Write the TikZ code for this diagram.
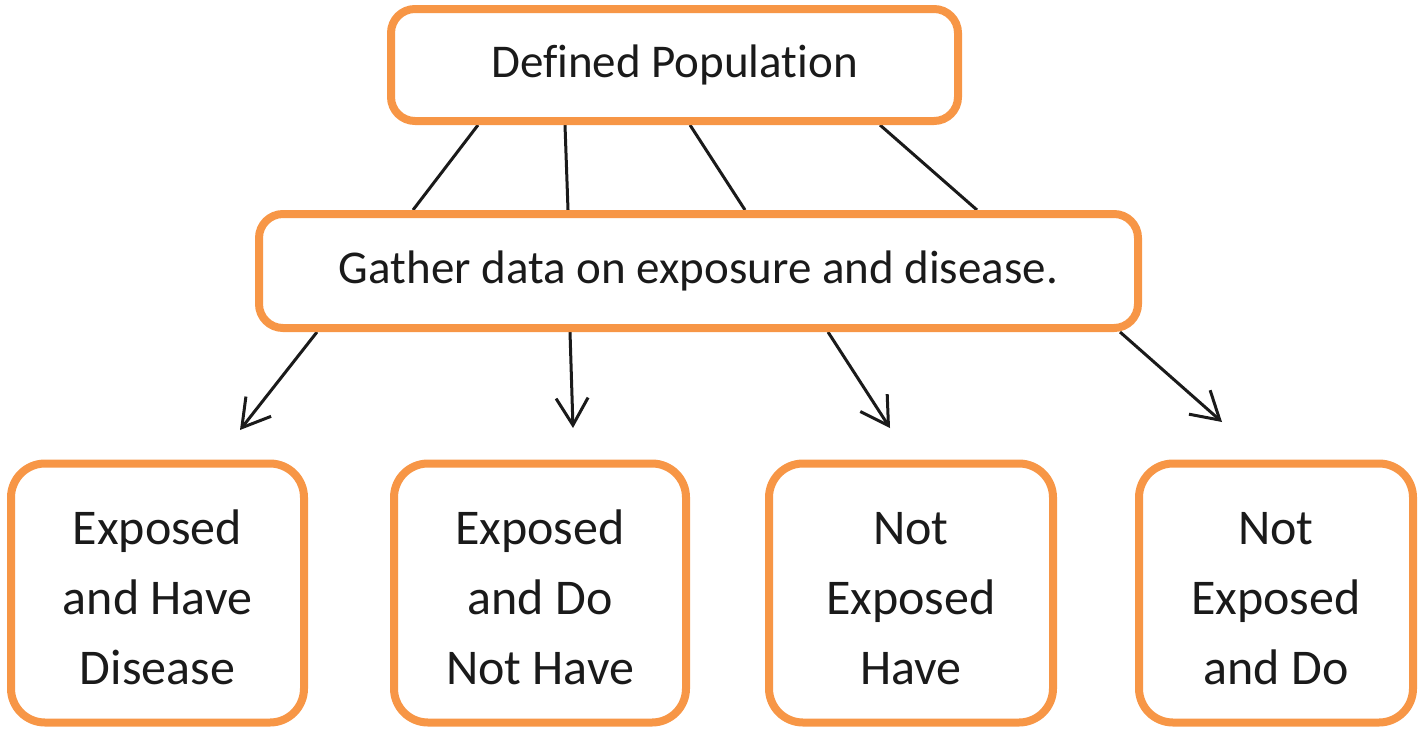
\documentclass[tikz,border=0pt]{standalone}
\usepackage{fontspec}
\setmainfont{Carlito}[Ligatures=NoCommon]
\usetikzlibrary{arrows.meta,backgrounds}
\definecolor{accent}{HTML}{F79646}
\definecolor{ink}{HTML}{1A1A1A}
\newcommand{\grouplines}[1]{\raisebox{-7pt}[\height][\depth]{\begin{tabular}{@{}c@{}}#1\end{tabular}}}
\begin{document}
\begin{tikzpicture}[x=1pt,y=-1pt,
  box/.style={draw=accent, line width=8pt, fill=white, rounded corners=24pt,
    inner sep=0pt, text=ink, align=center},
  headbox/.style={box, font=\fontsize{47}{56}\selectfont},
  leafbox/.style={box, rounded corners=34pt, font=\fontsize{50}{70}\selectfont},
  link/.style={draw=ink, line width=3pt},
  arrowlink/.style={link, -{Straight Barb[length=27pt, width=32pt, line width=3pt]}}
]
\useasboundingbox (0,0) rectangle (1418,731);

% boxes
\node[headbox, minimum width=567pt, minimum height=112pt] (top) at (674.5,65) {Defined Population};
\node[headbox, minimum width=879pt, minimum height=114pt] (mid) at (698.5,271) {Gather data on exposure and disease.};

\node[leafbox, minimum width=293pt, minimum height=259pt] (b1) at (157.5,593) {\grouplines{Exposed\\and Have\\Disease}};
\node[leafbox, minimum width=292pt, minimum height=259pt] (b2) at (540,593) {\grouplines{Exposed\\and Do\\Not Have}};
\node[leafbox, minimum width=284pt, minimum height=259pt] (b3) at (911,593) {\grouplines{Not\\Exposed\\Have}};
\node[leafbox, minimum width=274pt, minimum height=259pt] (b4) at (1276,593) {\grouplines{Not\\Exposed\\and Do}};

% free ends of the arrows
\coordinate (t1) at (240,430);
\coordinate (t2) at (573,428);
\coordinate (t3) at (890,428);
\coordinate (t4) at (1222,422);

\begin{scope}[on background layer]
  % population to data gathering
  \draw[link] ([xshift=-196.5pt]top.south) -- ([xshift=-285.5pt]mid.north);
  \draw[link] ([xshift=-109.5pt]top.south) -- ([xshift=-130.5pt]mid.north);
  \draw[link] ([xshift=15.5pt]top.south) -- ([xshift=46.5pt]mid.north);
  \draw[link] ([xshift=205.5pt]top.south) -- ([xshift=278.5pt]mid.north);
  % data gathering to the four groups
  \draw[arrowlink] ([xshift=-381.5pt]mid.south) -- (t1);
  \draw[arrowlink] ([xshift=-128.5pt]mid.south) -- (t2);
  \draw[arrowlink] ([xshift=129.5pt]mid.south) -- (t3);
  \draw[arrowlink] ([xshift=421.5pt]mid.south) -- (t4);
\end{scope}
\end{tikzpicture}
\end{document}
